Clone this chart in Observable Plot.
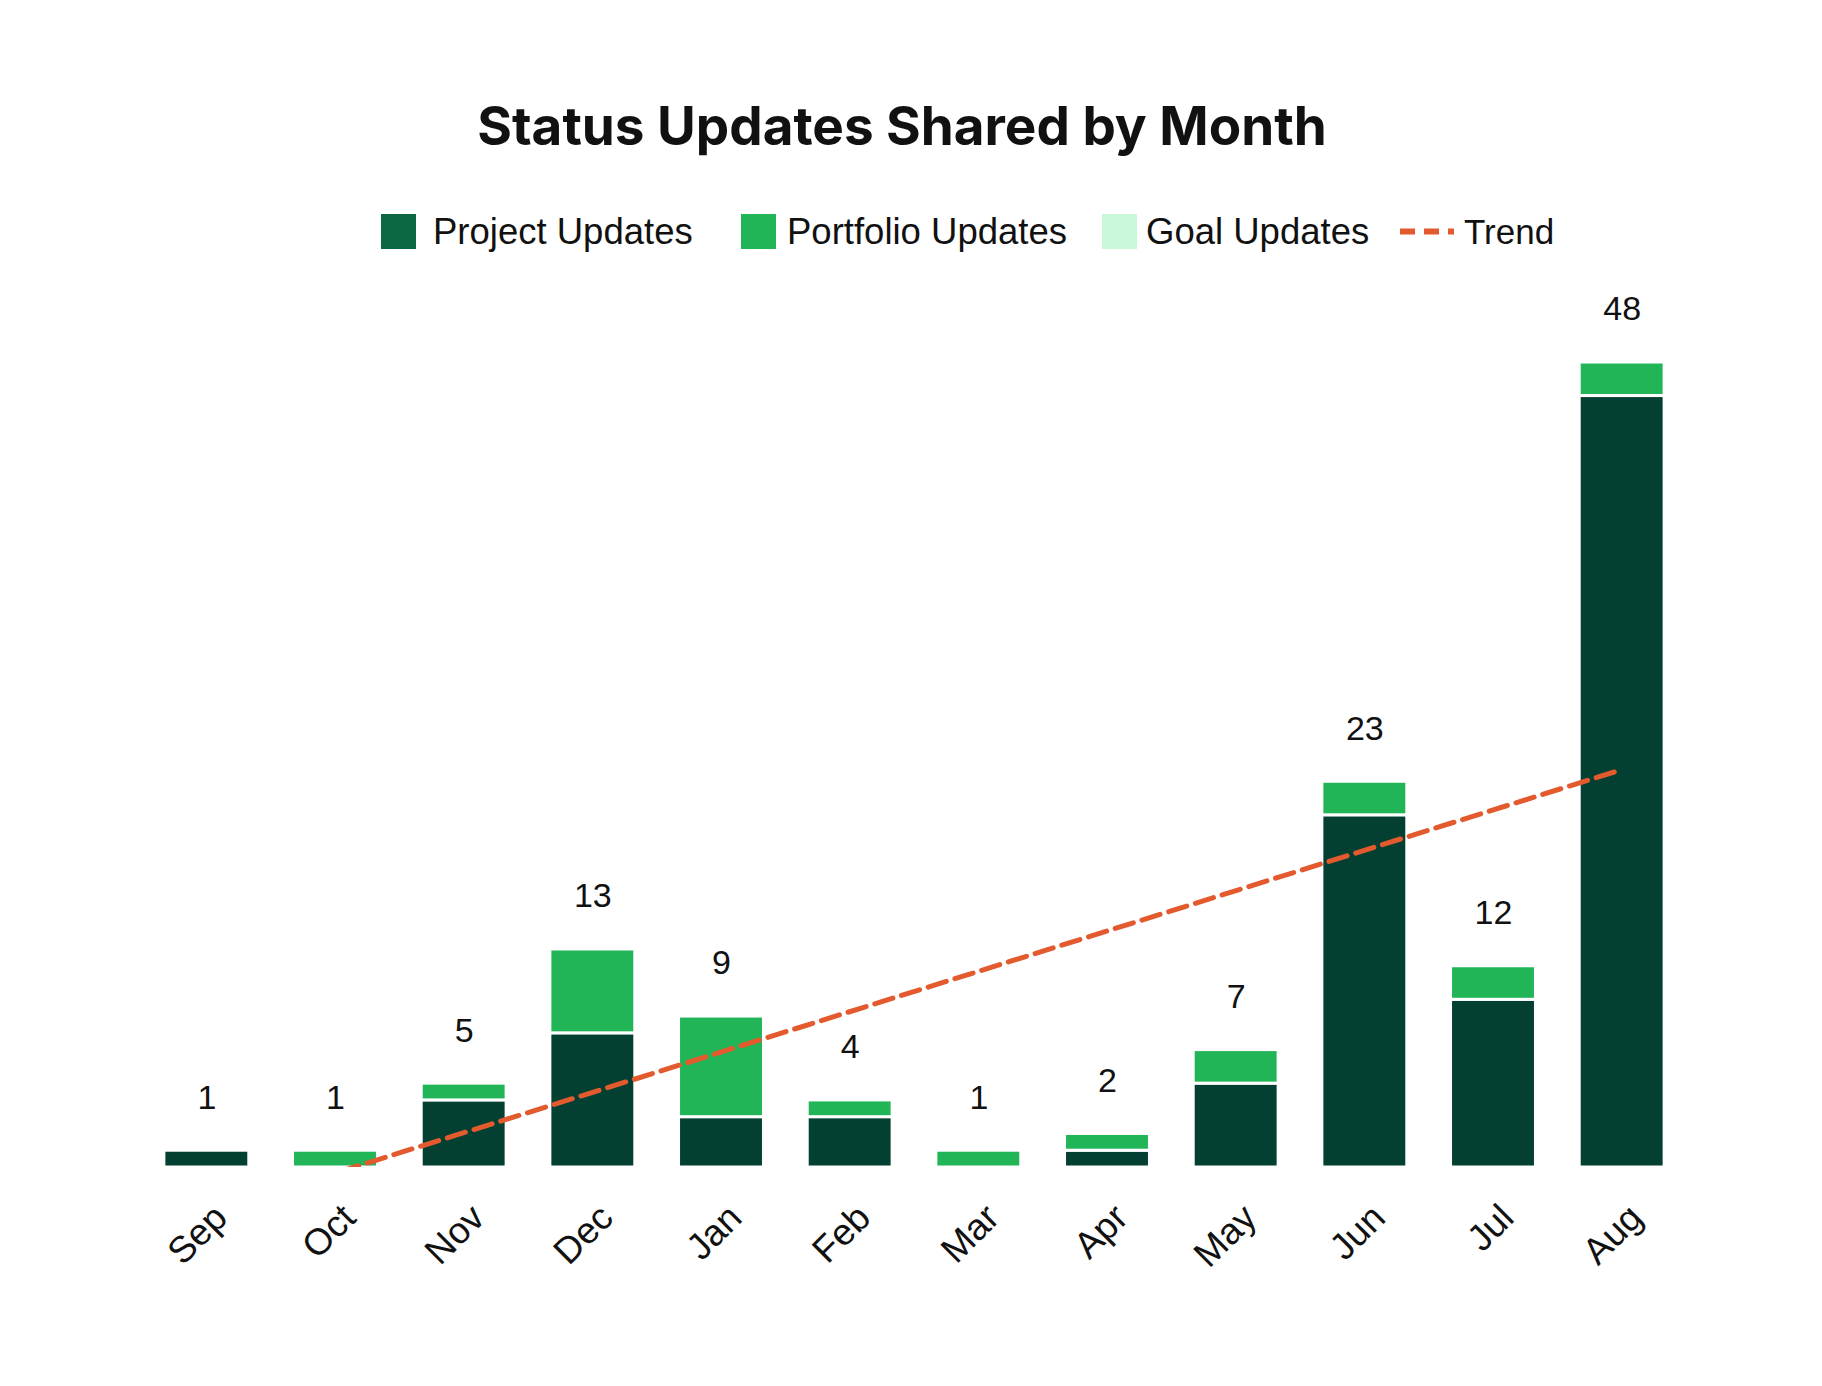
<!DOCTYPE html>
<html><head><meta charset="utf-8">
<script src="https://cdn.jsdelivr.net/npm/d3@7"></script>
<script src="https://cdn.jsdelivr.net/npm/@observablehq/plot@0.6"></script>
<style>
body{margin:0;background:#fff;}
#wrap{position:relative;width:1822px;height:1386px;overflow:hidden;}
#title{position:absolute;left:-9px;width:1822px;top:95px;text-align:center;font-family:Inter,sans-serif;font-weight:700;font-size:53px;color:#111;line-height:62px;}
.sw{position:absolute;top:214px;width:35px;height:35px;}
.lt{position:absolute;top:211px;height:42px;line-height:42px;font-family:"Liberation Sans",Arial,sans-serif;font-size:36.5px;color:#111;white-space:nowrap;}
#chart{position:absolute;top:270px;left:0;}
</style>
</head><body>
<div id="wrap">
  <div id="title">Status Updates Shared by Month</div>
  <div id="legend"></div>
  <div id="chart"></div>
</div>
<script>
// ---- data ----
const months = ["Sep","Oct","Nov","Dec","Jan","Feb","Mar","Apr","May","Jun","Jul","Aug"];
const projectUpdates   = [1,0,4,8,3,3,0,1,5,21,10,46];
const portfolioUpdates = [0,1,1,5,6,1,1,1,2,2,2,2];
const goalUpdates      = [0,0,0,0,0,0,0,0,0,0,0,0];
const seriesNames = ["Project Updates","Portfolio Updates","Goal Updates"];
const barColors = ["#034031","#22b557","#c9f7da"];
const legendColors = ["#0b6843","#22b557","#c9f7da"];
const trendColor = "#e35a2e";

// ---- derived table ----
const seriesValues = [projectUpdates, portfolioUpdates, goalUpdates];
const rows = [];
const totals = months.map((m, i) => {
  let acc = 0;
  seriesValues.forEach((vals, s) => {
    const v = vals[i];
    if (v > 0) rows.push({i, series: seriesNames[s], y1: acc, y2: acc + v});
    acc += v;
  });
  return {i, month: m, total: acc};
});

// least-squares trend over monthly totals
const n = totals.length;
const mx = d3.mean(totals, d => d.i), my = d3.mean(totals, d => d.total);
const slope = d3.sum(totals, d => (d.i - mx) * (d.total - my)) / d3.sum(totals, d => (d.i - mx) ** 2);
const icpt = my - slope * mx;
const trend = [0, n - 1].map(i => ({i, y: icpt + slope * i}));

// ---- legend ----
const legend = document.getElementById("legend");
const swLeft = [381, 741, 1102];
const txLeft = [433, 787, 1146];
seriesNames.forEach((name, s) => {
  const sw = document.createElement("div");
  sw.className = "sw";
  sw.style.left = swLeft[s] + "px";
  sw.style.background = legendColors[s];
  legend.appendChild(sw);
  const tx = document.createElement("div");
  tx.className = "lt";
  tx.style.left = txLeft[s] + "px";
  tx.textContent = name;
  legend.appendChild(tx);
});
const tl = document.createElement("div");
tl.innerHTML = `<svg width="54" height="35" style="position:absolute;left:1400px;top:214px"><line x1="0" y1="17.5" x2="54" y2="17.5" stroke="${trendColor}" stroke-width="6" stroke-dasharray="15,9"/></svg>`;
legend.appendChild(tl);
const tt = document.createElement("div");
tt.className = "lt";
tt.style.left = "1464px";
tt.style.fontSize = "35px";
tt.textContent = "Trend";
legend.appendChild(tt);

// ---- chart ----
const font = "Liberation Sans, Arial, sans-serif";
const chart = Plot.plot({
  width: 1822,
  height: 1030,
  marginTop: 92,
  marginBottom: 133,
  marginLeft: 142,
  marginRight: 136,
  style: {fontFamily: font, background: "#fff"},
  x: {type: "linear", domain: [-0.5, 11.5], axis: null},
  y: {domain: [0, 48], axis: null},
  color: {domain: seriesNames, range: barColors},
  marks: [
    Plot.rect(rows, {
      x1: d => d.i - 0.33, x2: d => d.i + 0.33,
      y1: "y1", y2: "y2",
      fill: "series", stroke: "#fff", strokeWidth: 3
    }),
    Plot.line(trend, {
      x: "i", y: "y", stroke: trendColor, strokeWidth: 5,
      strokeDasharray: "19,9", clip: true
    }),
    Plot.text(totals, {
      x: "i", y: "total", text: d => String(d.total),
      dy: -53, fontSize: 34, fill: "#111"
    }),
    Plot.text(totals, {
      x: "i", frameAnchor: "bottom", text: "month",
      rotate: -45, textAnchor: "end", lineAnchor: "middle",
      dx: 14, dy: 44, fontSize: 37, fill: "#111"
    })
  ]
});
document.getElementById("chart").appendChild(chart);
</script>
</body></html>
